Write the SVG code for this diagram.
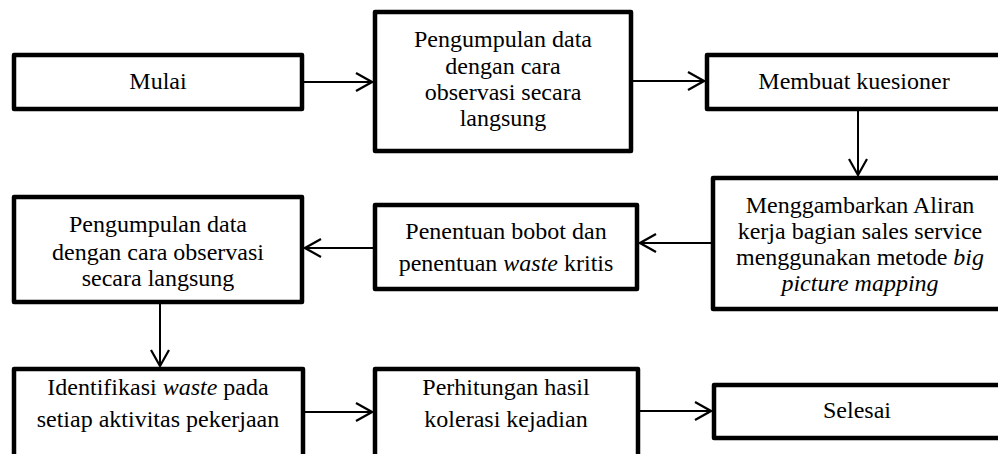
<svg xmlns="http://www.w3.org/2000/svg" width="998" height="454" viewBox="0 0 998 454">
  <style>
    .box { fill: #ffffff; stroke: #000000; stroke-width: 4.5; stroke-linejoin: round; }
    .lbl { font-family: "Liberation Serif", "Times New Roman", serif; font-size: 24px; fill: #000000; text-anchor: middle; }
    .it { font-style: italic; }
    .link { fill: none; stroke: #000000; stroke-width: 2; }
  </style>
  <defs>
    <marker id="head" markerUnits="userSpaceOnUse" viewBox="-18 -11 20 22" markerWidth="20" markerHeight="22" refX="0" refY="0" orient="auto">
      <path d="M -16 -9 L 0 0 L -16 9" fill="none" stroke="#000000" stroke-width="2.2"/>
    </marker>
    <clipPath id="clipMapping">
      <rect x="713" y="178" width="295" height="119"/>
    </clipPath>
  </defs>

  <rect width="998" height="454" fill="#ffffff"/>

  <g id="connectors">
    <line class="link" x1="304" y1="82" x2="372" y2="82" marker-end="url(#head)"/>
    <line class="link" x1="633" y1="81" x2="704" y2="81" marker-end="url(#head)"/>
    <line class="link" x1="858" y1="111" x2="858" y2="175" marker-end="url(#head)"/>
    <line class="link" x1="711" y1="243" x2="640" y2="243" marker-end="url(#head)"/>
    <line class="link" x1="373" y1="248" x2="305" y2="248" marker-end="url(#head)"/>
    <line class="link" x1="160" y1="304" x2="160" y2="366" marker-end="url(#head)"/>
    <line class="link" x1="305" y1="412" x2="372" y2="412" marker-end="url(#head)"/>
    <line class="link" x1="640" y1="411" x2="711" y2="411" marker-end="url(#head)"/>
  </g>

  <g id="mulai">
    <rect class="box" x="14" y="55" width="288" height="54"/>
    <text class="lbl" x="158" y="89">Mulai</text>
  </g>

  <g id="pengumpulan-1">
    <rect class="box" x="375" y="12" width="256" height="139"/>
    <text class="lbl" x="503" y="47">Pengumpulan data</text>
    <text class="lbl" x="503" y="74">dengan cara</text>
    <text class="lbl" x="503" y="100">observasi secara</text>
    <text class="lbl" x="503" y="126">langsung</text>
  </g>

  <g id="kuesioner">
    <rect class="box" x="707" y="55" width="294" height="54"/>
    <text class="lbl" x="854" y="89">Membuat kuesioner</text>
  </g>

  <g id="aliran">
    <rect class="box" x="713" y="178" width="295" height="131"/>
    <text class="lbl" x="860" y="213">Menggambarkan Aliran</text>
    <text class="lbl" x="860" y="239">kerja bagian sales service</text>
    <text class="lbl" x="860" y="265">menggunakan metode <tspan class="it">big</tspan></text>
    <text class="lbl it" x="860" y="291" clip-path="url(#clipMapping)">picture mapping</text>
  </g>

  <g id="bobot">
    <rect class="box" x="375" y="205" width="262" height="84"/>
    <text class="lbl" x="506" y="239">Penentuan bobot dan</text>
    <text class="lbl" x="506" y="271">penentuan <tspan class="it">waste</tspan> kritis</text>
  </g>

  <g id="pengumpulan-2">
    <rect class="box" x="14" y="197" width="288" height="105"/>
    <text class="lbl" x="158" y="232">Pengumpulan data</text>
    <text class="lbl" x="158" y="260">dengan cara observasi</text>
    <text class="lbl" x="158" y="286">secara langsung</text>
  </g>

  <g id="identifikasi">
    <rect class="box" x="14" y="369" width="289" height="100"/>
    <text class="lbl" x="158" y="395">Identifikasi <tspan class="it">waste</tspan> pada</text>
    <text class="lbl" x="158" y="427">setiap aktivitas pekerjaan</text>
  </g>

  <g id="perhitungan">
    <rect class="box" x="375" y="369" width="263" height="100"/>
    <text class="lbl" x="506" y="395">Perhitungan hasil</text>
    <text class="lbl" x="506" y="427">kolerasi kejadian</text>
  </g>

  <g id="selesai">
    <rect class="box" x="714" y="385" width="290" height="53"/>
    <text class="lbl" x="857" y="418">Selesai</text>
  </g>
</svg>
